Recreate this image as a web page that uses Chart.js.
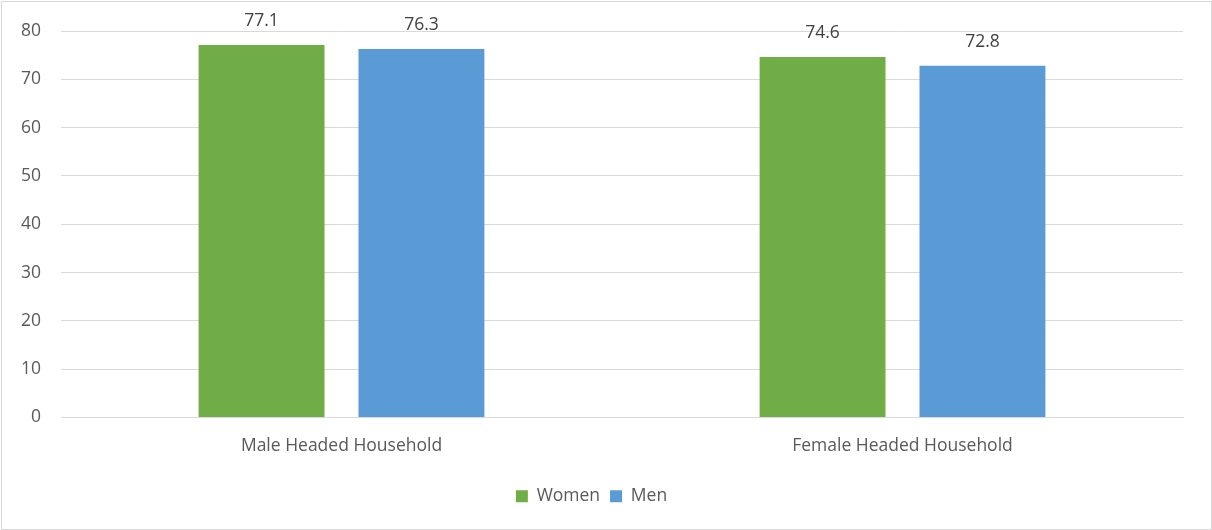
<!DOCTYPE html>
<html><head><meta charset="utf-8">
<script src="https://cdn.jsdelivr.net/npm/chart.js@4/dist/chart.umd.min.js"></script>
<style>html,body{margin:0;padding:0;background:#fff;}#wrap{width:1212px;height:530px;position:relative;}</style>
</head><body><div id="wrap"><canvas id="c"></canvas></div>
<script>
const categories = ["Male Headed Household", "Female Headed Household"];
const women = [77.1, 74.6];
const men = [76.3, 72.8];
const yTicks = [0, 10, 20, 30, 40, 50, 60, 70, 80];

const FONT = "'Open Sans', 'Noto Sans', sans-serif";
const FS = 17.5;

const framePlugin = {
  id: 'frame',
  beforeDraw(chart) {
    const ctx = chart.ctx;
    ctx.save();
    ctx.fillStyle = '#fff';
    ctx.fillRect(0, 0, chart.width, chart.height);
    ctx.strokeStyle = '#d9d9d9';
    ctx.lineWidth = 1;
    ctx.strokeRect(1.5, 1.5, chart.width - 2, chart.height - 2);
    ctx.restore();
  }
};

const labelPlugin = {
  id: 'valueLabels',
  afterDatasetsDraw(chart) {
    const ctx = chart.ctx;
    ctx.save();
    ctx.font = FS + "px " + FONT;
    ctx.fillStyle = '#404040';
    ctx.textAlign = 'center';
    ctx.textBaseline = 'middle';
    chart.data.datasets.forEach((ds, i) => {
      chart.getDatasetMeta(i).data.forEach((bar, j) => {
        ctx.fillText(ds.data[j].toFixed(1), bar.x, bar.y - 24);
      });
    });
    ctx.restore();
  }
};

new Chart(document.getElementById('c'), {
  type: 'bar',
  data: {
    labels: categories,
    datasets: [
      { label: 'Women', data: women, backgroundColor: '#70AD47', categoryPercentage: 0.57, barPercentage: 0.7875 },
      { label: 'Men', data: men, backgroundColor: '#5B9BD5', categoryPercentage: 0.57, barPercentage: 0.7875 }
    ]
  },
  options: {
    responsive: true,
    maintainAspectRatio: false,
    animation: false,
    layout: { padding: { left: 0, right: 29, top: 31, bottom: 15 } },
    plugins: {
      legend: {
        position: 'bottom',
        labels: {
          boxWidth: 12, boxHeight: 12, padding: 10,
          color: '#595959',
          font: { family: FONT, size: FS },
          useBorderRadius: false
        }
      },
      tooltip: { enabled: false }
    },
    scales: {
      x: {
        grid: { display: false },
        border: { color: '#d9d9d9', width: 1 },
        ticks: { color: '#595959', font: { family: FONT, size: FS }, padding: 10, maxRotation: 0 },
        afterFit(scale) { scale.height = 60; }
      },
      y: {
        min: 0, max: 80,
        afterBuildTicks(scale) { scale.ticks = yTicks.map(v => ({ value: v })); },
        grid: { color: '#d9d9d9', drawTicks: false, lineWidth: 1 },
        border: { display: false },
        ticks: { color: '#595959', font: { family: FONT, size: FS }, padding: 20 },
        afterFit(scale) { scale.width = 61; }
      }
    }
  },
  plugins: [framePlugin, labelPlugin]
});
</script></body></html>
